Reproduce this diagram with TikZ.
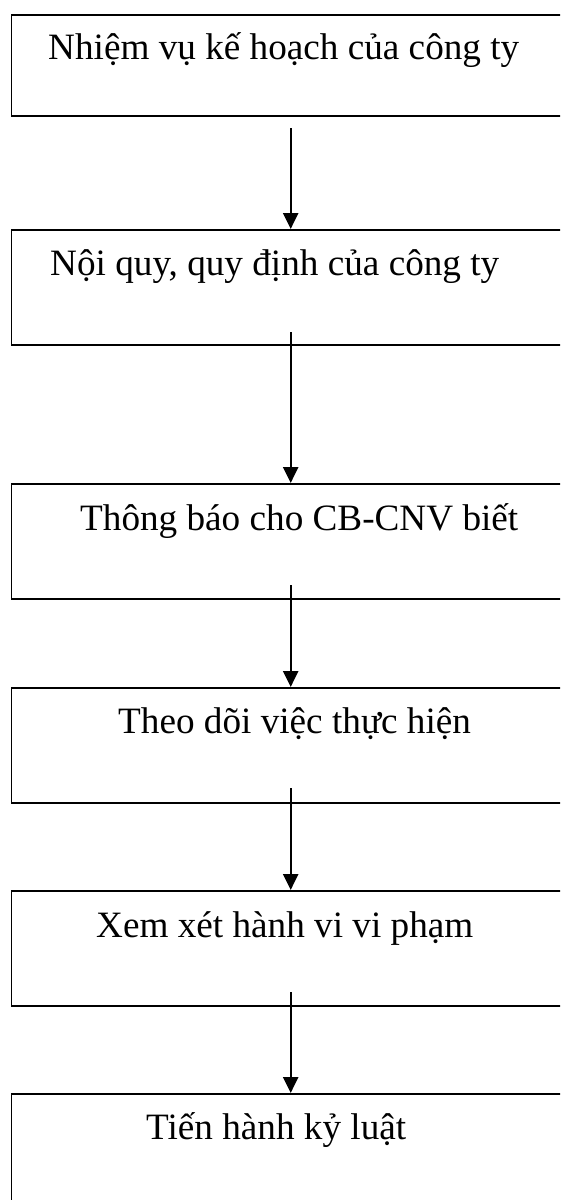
\documentclass[tikz,border=0pt]{standalone}
\usepackage{fontspec}
\setmainfont{Liberation Serif}
\usetikzlibrary{arrows.meta}
\begin{document}
\begin{tikzpicture}[x=1pt,y=-1pt,
  stagebox/.style={draw, line width=1.8pt, rectangle, inner sep=0pt,
    anchor=north west, minimum width=570pt},
  caption/.style={anchor=base west, inner sep=0pt,
    font=\fontsize{37.2}{44}\selectfont},
  flow/.style={line width=2.4pt, -{Triangle[width=15pt,length=16pt]}}]
  \useasboundingbox (0,0) rectangle (560,1200);
  \clip (0,0) rectangle (560,1200);
  \fill[white] (0,0) rectangle (560,1200);

  % process stages
  \node[stagebox, minimum height=101pt] (b1) at (10.5,14) {};
  \node[stagebox, minimum height=115pt] (b2) at (10.5,229) {};
  \node[stagebox, minimum height=115pt] (b3) at (10.5,483) {};
  \node[stagebox, minimum height=115pt] (b4) at (10.5,687) {};
  \node[stagebox, minimum height=115pt] (b5) at (10.5,890) {};
  \node[stagebox, minimum height=130pt] (b6) at (10.5,1093) {};

  % stage captions
  \node[caption] (t1) at (48,59)   {Nhiệm vụ kế hoạch của công ty};
  \node[caption] (t2) at (50,275)  {Nội quy, quy định của công ty};
  \node[caption] (t3) at (80,530)  {Thông báo cho CB-CNV biết};
  \node[caption] (t4) at (118,733) {Theo dõi việc thực hiện};
  \node[caption] (t5) at (96,937)  {Xem xét hành vi vi phạm};
  \node[caption] (t6) at (146,1139) {Tiến hành kỷ luật};

  % arrow start points
  \coordinate (s1) at (290.7,128);
  \coordinate (s2) at (290.7,332);
  \coordinate (s3) at (290.7,585);
  \coordinate (s4) at (290.7,788);
  \coordinate (s5) at (290.7,992);

  \draw[flow] (s1) -- (s1 |- b2.north);
  \draw[flow] (s2) -- (s2 |- b3.north);
  \draw[flow] (s3) -- (s3 |- b4.north);
  \draw[flow] (s4) -- (s4 |- b5.north);
  \draw[flow] (s5) -- (s5 |- b6.north);
\end{tikzpicture}
\end{document}
